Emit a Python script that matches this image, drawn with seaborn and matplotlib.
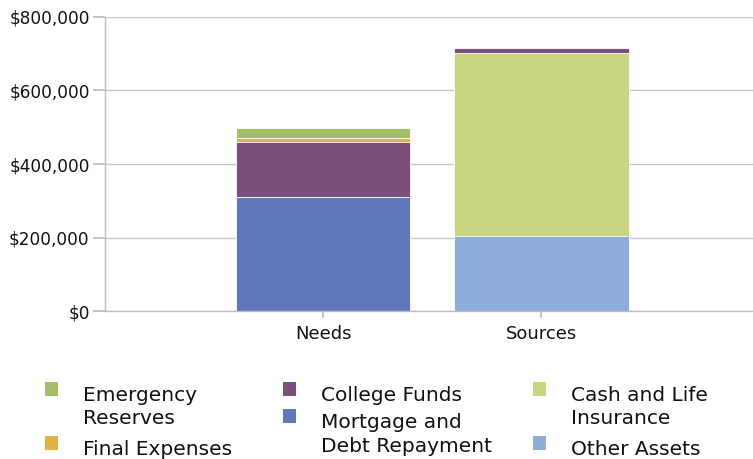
import matplotlib
matplotlib.use("Agg")
import matplotlib.pyplot as plt
import matplotlib.patches as mpatches
import seaborn as sns
import pandas as pd
import numpy as np

categories = ["Needs", "Sources"]
# stacking order bottom -> top
series_names = ["Mortgage and Debt Repayment", "Other Assets", "Cash and Life Insurance",
                "College Funds", "Final Expenses", "Emergency Reserves"]
mortgage = [310000, 0]
other_assets = [0, 205000]
cash_life = [0, 498000]
college = [150000, 12000]
final_exp = [10000, 0]
emergency = [28000, 0]
series_values = [mortgage, other_assets, cash_life, college, final_exp, emergency]
colors = ["#5F78BB", "#8DAEDB", "#C9D67F", "#7A4F7B", "#E2B24A", "#A6BD6B"]
yticks = [0, 200000, 400000, 600000, 800000]
ytick_labels = ["$0", "$200,000", "$400,000", "$600,000", "$800,000"]

sns.set_theme(style="white")
plt.rcParams['font.family'] = ['DejaVu Sans']

fig = plt.figure(figsize=(7.53, 4.59), dpi=100)
ax = fig.add_axes([0.1394, 0.3224, 1 - 0.1394, 0.963 - 0.3224])

cum = np.cumsum(np.array(series_values), axis=0)
# draw cumulative totals from top to bottom so lower series overlay
for i in range(len(series_names) - 1, -1, -1):
    df = pd.DataFrame({"cat": categories, "val": cum[i]})
    sns.barplot(data=df, x="cat", y="val", color=colors[i], width=0.8,
                saturation=1, ax=ax, edgecolor="white", linewidth=0.6)

ax.set_xlim(-1.0, 1.97)
ax.set_ylim(0, 800000)
ax.set_yticks(yticks)
ax.set_yticklabels(ytick_labels)
ax.set_xlabel("")
ax.set_ylabel("")
ax.yaxis.grid(True, color="#C8C8C8", linewidth=1)
ax.set_axisbelow(True)
for s in ["top", "right"]:
    ax.spines[s].set_visible(False)
for s in ["left", "bottom"]:
    ax.spines[s].set_color("#BDBDBD")
    ax.spines[s].set_linewidth(1)
ax.tick_params(axis="y", length=9, color="#BDBDBD", labelsize=12.2, pad=2, left=True,
               labelcolor="#111111")
ax.tick_params(axis="x", length=5, color="#BDBDBD", labelsize=13, pad=5, bottom=True,
               labelcolor="#111111")

# legend drawn manually in three columns
W, H = 753, 459
def px(x, y):
    return x / W, 1 - y / H

legend_items = [
    ("Emergency\nReserves", colors[5], 45, 382),
    ("Final Expenses", colors[4], 45, 436),
    ("College Funds", colors[3], 283, 382),
    ("Mortgage and\nDebt Repayment", colors[0], 283, 409),
    ("Cash and Life\nInsurance", colors[2], 533, 382),
    ("Other Assets", colors[1], 533, 436),
]
for label, col, sx, sy in legend_items:
    x0, y0 = px(sx, sy + 14)
    fig.patches.append(mpatches.Rectangle((x0, y0), 13 / W, 14 / H, transform=fig.transFigure,
                                          facecolor=col, edgecolor="none"))
    tx, ty = px(sx + 38, sy + 4)
    fig.text(tx, ty, label, fontsize=14.5, va="top", ha="left", color="#111111",
             linespacing=1.3)

fig.savefig("out.png", dpi=100)
